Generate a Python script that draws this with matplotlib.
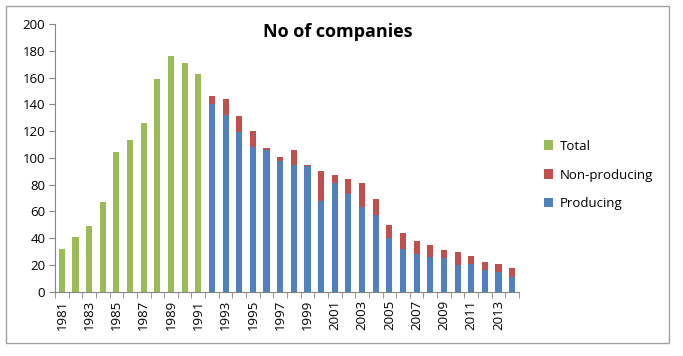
import numpy as np
import matplotlib
matplotlib.use("Agg")
import matplotlib.pyplot as plt
from matplotlib.patches import Rectangle

years = list(range(1981, 2015))
total = [32, 41, 49, 67, 104, 113, 126, 159, 176, 171, 163]  # 1981-1991
producing = [140, 132, 119, 108, 106, 98, 95, 94, 68, 81, 73, 63, 57, 40, 32,
             28, 26, 25, 20, 21, 16, 15, 11]  # 1992-2014
top_values = [146, 144, 131, 120, 107, 101, 106, 95, 90, 87, 84, 81, 69, 50, 44,
              38, 35, 31, 30, 27, 22, 21, 18]  # 1992-2014 stacked total
non_producing = [t - p for t, p in zip(top_values, producing)]

tick_labels = [str(y) if (y - 1981) % 2 == 0 else "" for y in years]

green = "#9BBB59"
red = "#C0504D"
blue = "#4F81BD"

plt.rcParams['font.family'] = ['Open Sans', 'DejaVu Sans']

fig = plt.figure(figsize=(6.83, 3.56), dpi=100)
ax = fig.add_axes([55/683, 1 - 291.7/356, (519-55)/683, (291.7-24)/356])

x_all = np.arange(len(years))
x_tot = x_all[:len(total)]
x_prod = x_all[len(total):]
w = 0.45

ax.bar(x_tot, total, width=w, color=green, label="Total")
ax.bar(x_prod, producing, width=w, color=blue, label="Producing")
ax.bar(x_prod, non_producing, width=w, bottom=producing, color=red, label="Non-producing")

ax.set_xlim(-0.5, len(years) - 0.5)
ax.set_ylim(0, 200)
ax.set_yticks(range(0, 201, 20))
ax.tick_params(axis='y', labelsize=9.5, length=4, color="#868686", direction='out', pad=3)

ax.set_xticks(x_all)
ax.set_xticklabels(tick_labels, rotation=90, fontsize=9.5)
ax.tick_params(axis='x', length=0, pad=6)
ax.set_xticks(np.arange(-0.5, len(years)), minor=True)
ax.tick_params(axis='x', which='minor', length=4, color="#868686", direction='out')

for s in ['top', 'right']:
    ax.spines[s].set_visible(False)
for s in ['left', 'bottom']:
    ax.spines[s].set_color("#868686")
    ax.spines[s].set_linewidth(0.8)

fig.text(338/683, 1 - 32/356, "No of companies", ha='center', va='center',
         fontsize=13, fontweight='bold')

handles, labels = ax.get_legend_handles_labels()
order = [0, 2, 1]
leg = fig.legend([handles[i] for i in order], [labels[i] for i in order],
                 loc='center left', bbox_to_anchor=(532/683, 1 - 175/356),
                 frameon=False, fontsize=9.5, handlelength=0.7, handleheight=0.7,
                 labelspacing=1.2, handletextpad=0.5)

fig.patches.append(Rectangle((6/683, 1 - 343/356), (669-6)/683, (343-6)/356,
                             transform=fig.transFigure, fill=False,
                             edgecolor="#A0A0A0", linewidth=1))

fig.savefig("out.png", dpi=100)
